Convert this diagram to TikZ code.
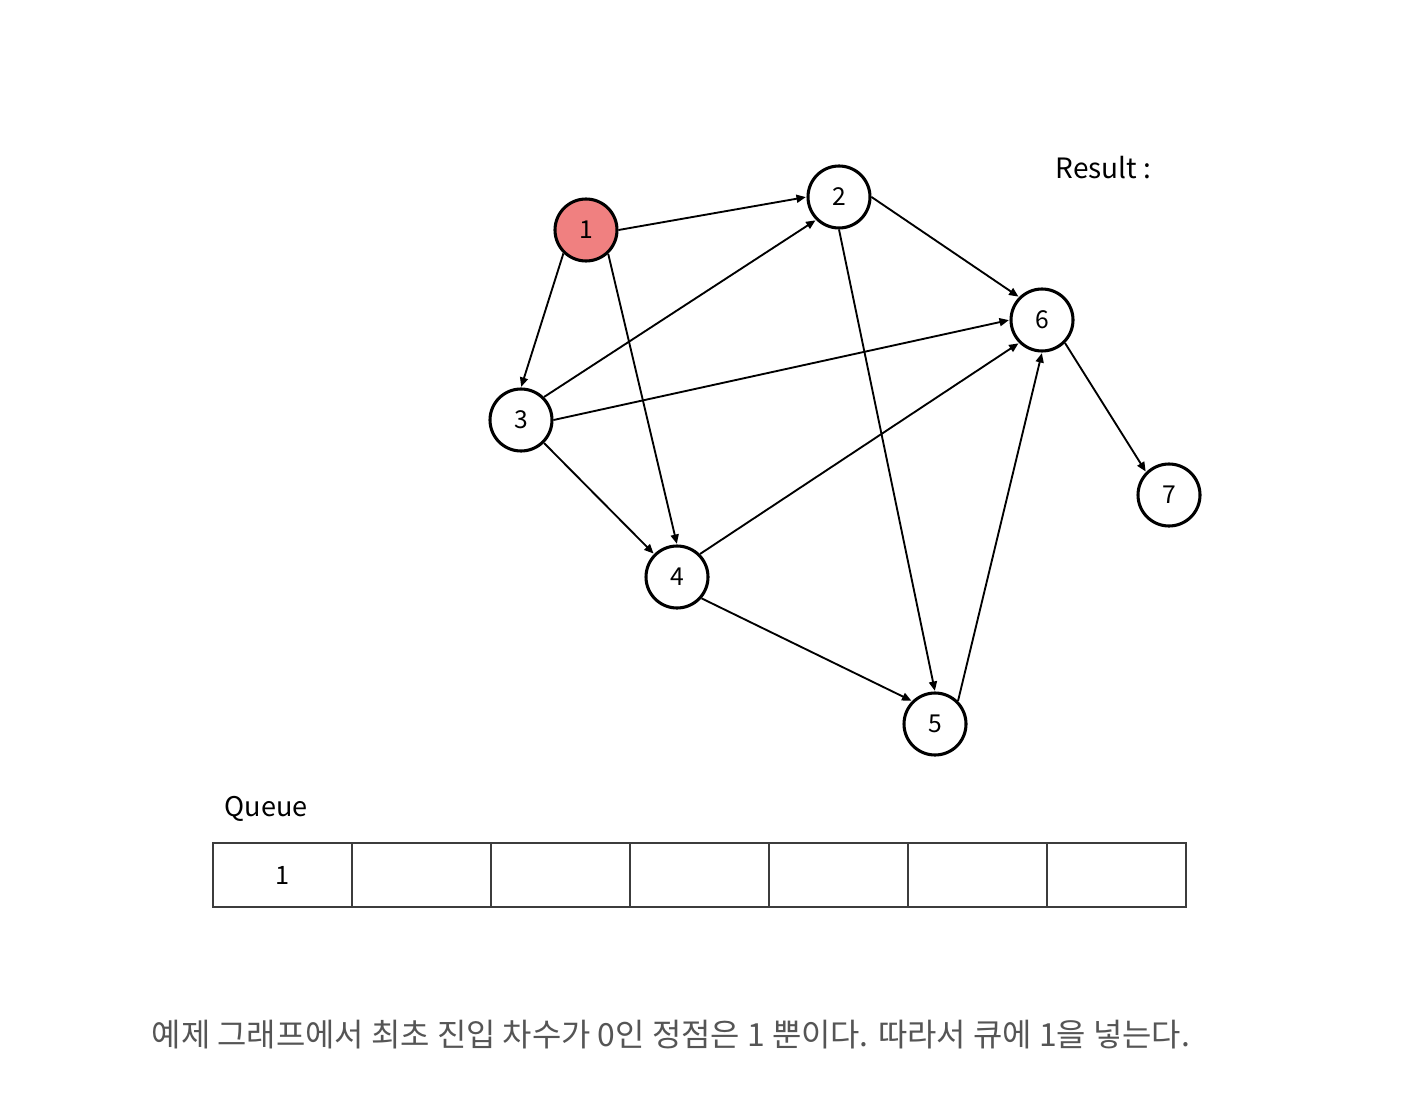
\documentclass[tikz,border=0pt]{standalone}
\usepackage{fontspec}
\setmainfont{Noto Sans CJK KR}
\usetikzlibrary{arrows.meta}
\definecolor{nodered}{RGB}{240,128,128}
\definecolor{captiongray}{RGB}{85,85,85}
\definecolor{boxgray}{RGB}{60,60,60}
\tikzset{
  vert/.style={circle, draw=black, line width=2.3pt, fill=white, minimum size=46.5pt, inner sep=0pt, font=\fontsize{18.5}{20}\selectfont},
  edge/.style={line width=1.4pt, -{Triangle[length=7pt,width=6pt]}, shorten >=0.5pt},
  cell/.style={draw=boxgray, line width=1pt, minimum width=104.25pt, minimum height=48pt, inner sep=0pt, font=\fontsize{19}{20}\selectfont},
}
\begin{document}
\begin{tikzpicture}[x=0.75pt,y=-0.75pt]
\useasboundingbox (0,0) rectangle (1426,1112);
\node[vert, fill=nodered] (n1) at (586,230) {1};
\node[vert] (n2) at (839,197) {2};
\node[vert] (n3) at (521,420) {3};
\node[vert] (n4) at (677,577) {4};
\node[vert] (n5) at (935,724) {5};
\node[vert] (n6) at (1042,320) {6};
\node[vert] (n7) at (1169,495) {7};
\draw[edge] (n1.east) -- (n2.west);
\draw[edge] (n1.-134) -- (n3.north);
\draw[edge] (n1.-47) -- (n4.north);
\draw[edge] (n2.east) -- (n6.north west);
\draw[edge] (n2.south) -- (n5.north);
\draw[edge] (n3.north east) -- (n2.south west);
\draw[edge] (n3.east) -- (n6.west);
\draw[edge] (n3.south east) -- (n4.north west);
\draw[edge] (n4.north east) -- (n6.south west);
\draw[edge] (n4.-41) -- (n5.north west);
\draw[edge] (n5.north east) -- (n6.south);
\draw[edge] (n6.south east) -- (n7.north west);
\node[anchor=west, font=\fontsize{21}{22}\selectfont] (result) at (1051,168) {Result :};
\node[anchor=west, font=\fontsize{20.3}{22}\selectfont] (queue) at (220,809) {Queue};
\foreach \i/\t in {0/1,1/,2/,3/,4/,5/,6/} {
  \node[cell] (q\i) at ({282.5+139*\i},875) {\t};
}
\node[font=\fontsize{23.9}{26}\selectfont, text=captiongray] (caption) at (671,1035) {예제 그래프에서 최초 진입 차수가 0인 정점은 1 뿐이다. 따라서 큐에 1을 넣는다.};
\end{tikzpicture}
\end{document}
